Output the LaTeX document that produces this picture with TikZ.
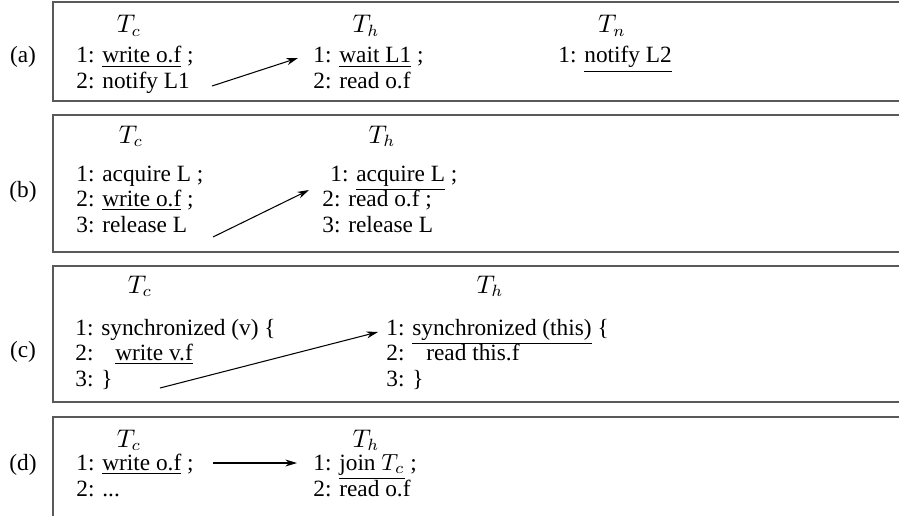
\documentclass[tikz,border=0pt]{standalone}
\usepackage{fontspec}
\setmainfont{Liberation Serif}
\usetikzlibrary{arrows.meta}
\begin{document}
\begin{tikzpicture}[x=0.429pt,y=-0.429pt,
  txt/.style={anchor=base west, inner sep=0pt, font=\fontsize{10}{12}\selectfont},
  head/.style={anchor=base, inner sep=0pt, font=\fontsize{10.5}{12}\selectfont},
  lbl/.style={anchor=base, inner sep=0pt, font=\fontsize{10}{12}\selectfont},
  frame/.style={draw=black!65, line width=0.65pt},
  flow/.style={-{Stealth[length=5pt,width=3pt]}, line width=0.45pt}]
\clip (0,0) rectangle (899,515);
% frames
\draw[frame] (910,2) -- (53,2) -- (53,101) -- (910,101);
\draw[frame] (910,115) -- (53,115) -- (53,252) -- (910,252);
\draw[frame] (910,266) -- (53,266) -- (53,402) -- (910,402);
\draw[frame] (910,417) -- (53,417) -- (53,530);
% (a)
\node[lbl] (la) at (23,62) {(a)};
\node[head] (aTc) at (129,33) {$T_c$};
\node[head] (aTh) at (366,33) {$T_h$};
\node[head] (aTn) at (612,33) {$T_n$};
\node[txt] (ac1) at (76,63) {1: \underline{write o.f} ;};
\node[txt] (ac2) at (76,88) {2: notify L1};
\node[txt] (ah1) at (313,63) {1: \underline{wait L1} ;};
\node[txt] (ah2) at (313,88) {2: read o.f};
\node[txt] (an1) at (558,63) {1: \underline{notify L2}};
\coordinate (aS) at (212,86);
\coordinate (aE) at (298,58);
\draw[flow] (aS) -- (aE);
% (b)
\node[lbl] (lb) at (23,197) {(b)};
\node[head] (bTc) at (131,143) {$T_c$};
\node[head] (bTh) at (382,143) {$T_h$};
\node[txt] (bc1) at (76,181) {1: acquire L ;};
\node[txt] (bc2) at (76,206) {2: \underline{write o.f} ;};
\node[txt] (bc3) at (76,232) {3: release L};
\node[txt] (bh1) at (330,181) {1: \underline{acquire L} ;};
\node[txt] (bh2) at (322,206) {2: read o.f ;};
\node[txt] (bh3) at (322,232) {3: release L};
\coordinate (bS) at (213,237);
\coordinate (bE) at (309,190);
\draw[flow] (bS) -- (bE);
% (c)
\node[lbl] (lc) at (23,357) {(c)};
\node[head] (cTc) at (140,293) {$T_c$};
\node[head] (cTh) at (490,293) {$T_h$};
\node[txt] (cc1) at (75,335) {1: synchronized (v) \{};
\node[txt] (cc2) at (75,360) {2:\hspace{6pt} \underline{write v.f}};
\node[txt] (cc3) at (75,386) {3: \}};
\node[txt] (ch1) at (386,335) {1: \underline{synchronized (this)} \{};
\node[txt] (ch2) at (386,360) {2:\hspace{6pt} read this.f};
\node[txt] (ch3) at (386,386) {3: \}};
\coordinate (cS) at (160,388);
\coordinate (cE) at (378,332);
\draw[flow] (cS) -- (cE);
% (d)
\node[lbl] (ld) at (23,470) {(d)};
\node[head] (dTc) at (129,447) {$T_c$};
\node[head] (dTh) at (366,447) {$T_h$};
\node[txt] (dc1) at (76,470) {1: \underline{write o.f} ;};
\node[txt] (dc2) at (76,496) {2: ...};
\node[txt] (dh1) at (313,470) {1: \underline{join $T_c$} ;};
\node[txt] (dh2) at (313,496) {2: read o.f};
\coordinate (dS) at (213,463);
\coordinate (dE) at (297,463);
\draw[flow] (dS) -- (dE);
\end{tikzpicture}
\end{document}
